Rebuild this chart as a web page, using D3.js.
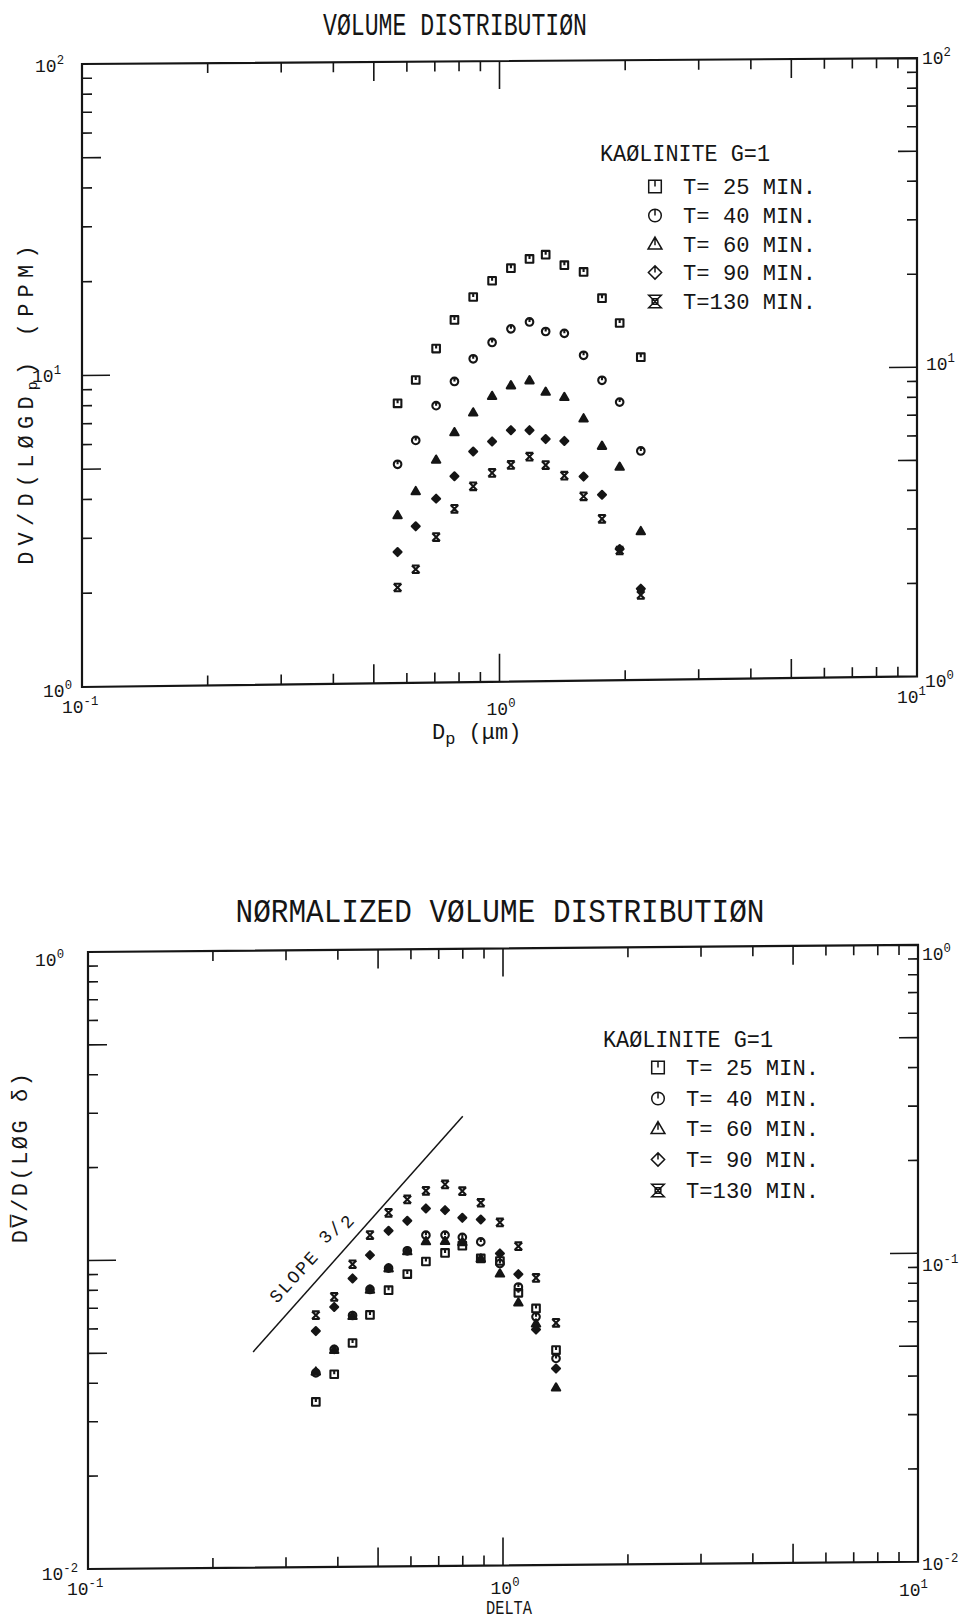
<!DOCTYPE html>
<html>
<head>
<meta charset="utf-8">
<script src="https://cdn.jsdelivr.net/npm/d3@7"></script>
<style>
  html, body { margin: 0; padding: 0; background: #fff; }
  svg text { font-family: "Liberation Mono", "DejaVu Sans Mono", monospace; fill: #151515; }
</style>
</head>
<body>
<svg id="chart" width="970" height="1620"></svg>
<script>
// ---- Volume distribution: particle diameter (um) and dV/dlogDp (ppm) per sampling time
const dpMicron = [0.57, 0.63, 0.705, 0.78, 0.865, 0.96, 1.065, 1.18, 1.29, 1.43, 1.59, 1.76, 1.94, 2.18];
const volT25  = [7.95, 9.44, 11.9, 14.7, 17.4, 19.6, 21.5, 23.0, 23.7, 21.9, 20.8, 17.1, 14.2, 11.0];
const volT40  = [5.06, 6.03, 7.79, 9.31, 11.0, 12.4, 13.7, 14.4, 13.4, 13.2, 11.2, 9.29, 7.89, 5.48];
const volT60  = [3.47, 4.14, 5.22, 6.39, 7.39, 8.34, 9.01, 9.34, 8.57, 8.23, 7.01, 5.71, 4.88, 3.02];
const volT90  = [2.64, 3.19, 3.91, 4.61, 5.53, 5.95, 6.46, 6.45, 6.03, 5.94, 4.55, 3.97, 2.65, 1.97];
const volT130 = [2.03, 2.32, 2.94, 3.62, 4.27, 4.71, 4.99, 5.30, 4.97, 4.59, 3.93, 3.32, 2.62, 1.88];

// ---- Normalized volume distribution: dimensionless size delta
const delta    = [0.354, 0.392, 0.434, 0.478, 0.530, 0.588, 0.652, 0.725, 0.798, 0.884, 0.983, 1.089, 1.201, 1.342];
const normT25  = [0.0343, 0.0421, 0.0531, 0.0654, 0.0786, 0.0885, 0.0971, 0.1034, 0.109, 0.0990, 0.097, 0.0764, 0.0679, 0.0497];
const normT40  = [0.0426, 0.0507, 0.0652, 0.0791, 0.0926, 0.1053, 0.1182, 0.1181, 0.116, 0.112, 0.0952, 0.0798, 0.0638, 0.0467];
const normT60  = [0.0430, 0.0505, 0.0650, 0.0790, 0.0925, 0.1050, 0.113, 0.113, 0.112, 0.099, 0.0884, 0.0711, 0.0607, 0.0376];
const normT90  = [0.0582, 0.0696, 0.0860, 0.1022, 0.1224, 0.1317, 0.1443, 0.1423, 0.1342, 0.1324, 0.1026, 0.0878, 0.0580, 0.0433];
const normT130 = [0.0655, 0.0750, 0.0956, 0.1187, 0.140, 0.1545, 0.1646, 0.1724, 0.1638, 0.150, 0.1294, 0.1082, 0.0853, 0.0609];

// ---- Reference slope line (3/2) on the normalized plot
const slopeDelta = [0.25, 0.80];
const slopeStart = 0.05;
const slopeValue = 1.5;

// ---- Legend text and symbols
const legendTitle = "KAØLINITE G=1";
const seriesLabels = ["T= 25 MIN.", "T= 40 MIN.", "T= 60 MIN.", "T= 90 MIN.", "T=130 MIN."];
const seriesSymbols = ["square", "circle", "triangle", "diamond", "hourglass"];

const INK = "#151515";
const svg = d3.select("#chart");

// plotter-style symbol outlines (with the small centre tick of the pen plotter)
function symbolPath(type, s) {
  switch (type) {
    case "square":   return `M${-s},${-s}H${s}V${s}H${-s}Z M0,${-s}V0`;
    case "circle":   return `M${s},0A${s},${s} 0 1,1 ${-s},0A${s},${s} 0 1,1 ${s},0Z M0,${-s}V0`;
    case "triangle": return `M0,${-s * 1.1}L${s * 1.1},${s * 0.8}H${-s * 1.1}Z M0,${-s * 1.1}V${s * 0.2}`;
    case "diamond":  return `M0,${-s * 1.05}L${s * 1.05},0L0,${s * 1.05}L${-s * 1.05},0Z M0,${-s}V0`;
    case "hourglass":return `M${-s},${-s}H${s}L${-s},${s}H${s}Z M${-s*0.45},${-s*0.45}H${s*0.45}V${s*0.45}H${-s*0.45}Z`;
    case "xbar":     return `M${-s},${-s}H${s} M${-s},${s}H${s} M${-s},${-s}L${s},${s} M${s},${-s}L${-s},${s}`;
  }
}
const plotSymbol = { square: "square", circle: "circle", triangle: "triangle", diamond: "diamond", hourglass: "xbar" };
const filledInPlot = { square: false, circle: false, triangle: true, diamond: true, xbar: false };

function decadeLabel(x, y, exp, anchor, size) {
  const t = svg.append("text").attr("x", x).attr("y", y)
    .attr("text-anchor", anchor).attr("font-size", size);
  t.append("tspan").text("10");
  t.append("tspan").attr("dy", -size * 0.45).attr("font-size", size * 0.68).text(exp);
}

function drawPanel(cfg) {
  const W = cfg.right - cfg.left, H = cfg.bottom - cfg.top;
  const x = d3.scaleLog().domain(cfg.xDomain).range([0, W]);
  const y = d3.scaleLog().domain(cfg.yDomain).range([0, -H]);
  // the plotted sheet is slightly sheared: the shear grows from top edge to bottom edge
  const warp = (px, py) => {
    const f = -py / H;
    const t = cfg.tiltBottom + (cfg.tiltTop - cfg.tiltBottom) * f;
    return [cfg.left + px, cfg.bottom + py - px * t];
  };
  const seg = (p, q) => {
    const a = warp(p[0], p[1]), b = warp(q[0], q[1]);
    return `M${a[0]},${a[1]}L${b[0]},${b[1]}`;
  };
  const g = svg.append("g");

  const corners = [[0, 0], [W, 0], [W, -H], [0, -H]].map(c => warp(c[0], c[1]));
  g.append("path").attr("d", "M" + corners.map(c => c.join(",")).join("L") + "Z")
    .attr("fill", "none").attr("stroke", INK).attr("stroke-width", 2.2).attr("stroke-linejoin", "miter");

  const tickLen = v => {
    const m = Math.round(v / Math.pow(10, Math.floor(Math.log10(v) + 1e-9)));
    return m === 1 ? 28 : (m === 5 ? 19 : 10);
  };
  let tickD = "";
  x.ticks().forEach(v => {
    const px = x(v);
    if (px < 1 || px > W - 1) return;
    const L = tickLen(v);
    tickD += seg([px, 0], [px, -L]) + seg([px, -H], [px, -H + L]);
  });
  y.ticks().forEach(v => {
    const py = y(v);
    if (py > -1 || py < -H + 1) return;
    const L = tickLen(v);
    tickD += seg([0, py], [L, py]) + seg([W, py], [W - L, py]);
  });
  g.append("path").attr("d", tickD).attr("stroke", INK).attr("stroke-width", 1.6).attr("fill", "none");

  if (cfg.slope) {
    const yEnd = cfg.slope.start * Math.pow(cfg.slope.xs[1] / cfg.slope.xs[0], cfg.slope.k);
    g.append("path")
      .attr("d", seg([x(cfg.slope.xs[0]), y(cfg.slope.start)], [x(cfg.slope.xs[1]), y(yEnd)]))
      .attr("stroke", INK).attr("stroke-width", 1.5);
  }

  cfg.series.forEach((vals, i) => {
    const type = plotSymbol[seriesSymbols[i]];
    g.append("g").selectAll("path").data(vals).join("path")
      .attr("transform", (d, j) => {
        const p = warp(x(cfg.xs[j]), y(d));
        return `translate(${p[0]},${p[1]})`;
      })
      .attr("d", symbolPath(type, 3.8))
      .attr("fill", filledInPlot[type] ? INK : "none")
      .attr("stroke", INK).attr("stroke-width", 2.1).attr("stroke-linejoin", "round");
  });
}

function drawLegend(lg) {
  svg.append("text").attr("x", lg.x).attr("y", lg.headY)
    .attr("font-size", 23).attr("textLength", 170).attr("lengthAdjust", "spacingAndGlyphs")
    .text(legendTitle);
  seriesLabels.forEach((lab, i) => {
    const by = lg.rows[i];
    svg.append("path").attr("transform", `translate(${lg.symX},${by - 7.5})`)
      .attr("d", symbolPath(seriesSymbols[i], 6.3))
      .attr("fill", "none").attr("stroke", INK).attr("stroke-width", 1.5);
    svg.append("text").attr("x", lg.textX).attr("y", by)
      .attr("font-size", 22).attr("textLength", 133).attr("lengthAdjust", "spacingAndGlyphs")
      .text(lab);
  });
}

// ================= upper panel =================
svg.append("text").attr("x", 455).attr("y", 35).attr("text-anchor", "middle")
  .attr("font-size", 31).attr("textLength", 264).attr("lengthAdjust", "spacingAndGlyphs")
  .text("VØLUME DISTRIBUTIØN");

drawPanel({
  left: 82, right: 917, top: 64, bottom: 687, tiltBottom: 0.0127, tiltTop: 0.007,
  xDomain: [0.1, 10], yDomain: [1, 100],
  xs: dpMicron, series: [volT25, volT40, volT60, volT90, volT130]
});

[[64, 72, "2", "end"], [61, 382, "1", "end"], [72, 697, "0", "end"], [62, 713, "-1", "start"],
 [501, 715, "0", "middle"], [897, 703, "1", "start"], [925, 687, "0", "start"],
 [926, 370, "1", "start"], [922, 64, "2", "start"]]
  .forEach(d => decadeLabel(d[0], d[1], d[2], d[3], 18));

// y axis title
{
  const t = svg.append("text").attr("transform", "translate(33,402) rotate(-90)")
    .attr("text-anchor", "middle").attr("font-size", 22).attr("letter-spacing", 6.2);
  t.append("tspan").text("DV/D(LØGD");
  t.append("tspan").attr("dy", 4).attr("font-size", 15).text("p");
  t.append("tspan").attr("dy", -4).text(")  (PPM)");
}
// x axis title
{
  const t = svg.append("text").attr("x", 432).attr("y", 739).attr("font-size", 22);
  t.append("tspan").text("D");
  t.append("tspan").attr("dy", 5).attr("font-size", 17).text("p");
  t.append("tspan").attr("dy", -5).text("  (μm)");
}

drawLegend({ x: 600, headY: 161, symX: 655, textX: 683, rows: [194, 223, 251.5, 280, 309] });

// ================= lower panel =================
svg.append("text").attr("x", 500).attr("y", 922).attr("text-anchor", "middle")
  .attr("font-size", 34).attr("textLength", 529).attr("lengthAdjust", "spacingAndGlyphs")
  .text("NØRMALIZED VØLUME DISTRIBUTIØN");

drawPanel({
  left: 88, right: 918, top: 952, bottom: 1569, tiltBottom: 0.0087, tiltTop: 0.0087,
  xDomain: [0.1, 10], yDomain: [0.01, 1],
  xs: delta, series: [normT25, normT40, normT60, normT90, normT130],
  slope: { xs: slopeDelta, start: slopeStart, k: slopeValue }
});

[[64, 966, "0", "end"], [78, 1580, "-2", "end"], [67, 1595, "-1", "start"],
 [505, 1594, "0", "middle"], [899, 1596, "1", "start"], [922, 1570, "-2", "start"],
 [922, 1271, "-1", "start"], [922, 960, "0", "start"]]
  .forEach(d => decadeLabel(d[0], d[1], d[2], d[3], 18));

{
  const t = svg.append("text").attr("transform", "translate(27,1157) rotate(-90)")
    .attr("text-anchor", "middle").attr("font-size", 22).attr("letter-spacing", 2.5);
  t.text("DV\u0305/D(LØG δ)");
}
svg.append("text").attr("x", 509).attr("y", 1614).attr("text-anchor", "middle")
  .attr("font-size", 20).attr("textLength", 46).attr("lengthAdjust", "spacingAndGlyphs")
  .text("DELTA");

{
  const t = svg.append("text").attr("transform", "translate(277,1304) rotate(-47.5)")
    .attr("font-size", 18).attr("letter-spacing", 2);
  t.append("tspan").text("SLOPE  ");
  t.append("tspan").attr("dy", -4).text("3");
  t.append("tspan").attr("dy", 2).text("/");
  t.append("tspan").attr("dy", 4).text("2");
}

drawLegend({ x: 603, headY: 1047, symX: 658, textX: 686, rows: [1075, 1106, 1136, 1167, 1198] });
</script>
</body>
</html>
